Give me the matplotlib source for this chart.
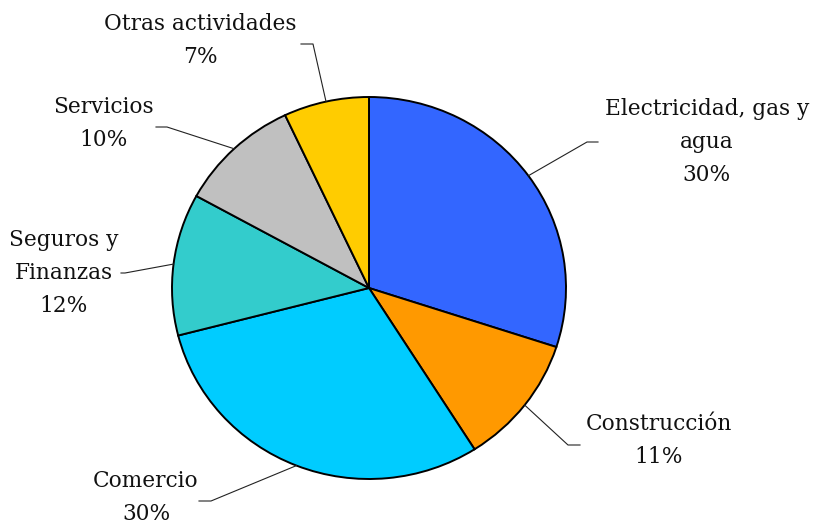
import numpy as np
import matplotlib

matplotlib.use("Agg")
import matplotlib.pyplot as plt

# slices, clockwise from 12 o'clock
labels = ["Electricidad, gas y\nagua", "Construcción", "Comercio",
          "Seguros y\nFinanzas", "Servicios", "Otras actividades"]
shares = [30, 11, 30, 12, 10, 7]
colors = ["#3366FF", "#FF9900", "#00CCFF", "#33CCCC", "#C0C0C0", "#FFCC00"]

# layout in pixels of the 814x522 picture
W, H = 814, 522
CX, CY, RX, RY = 369, 288, 197, 191
# (text centre x, text top-line y, elbow x, elbow y, end x)
label_pos = [
    (707, 109, 587, 142, 598),
    (659, 424, 568, 445, 580),
    (146, 481, 211, 501, 199),
    (64, 240, 125, 273, 121),
    (103, 107, 167, 127, 156),
    (200, 24, 313, 44, 301),
]


def to_data(px, py):
    return (px - CX) / RX, (CY - py) / RY


plt.rcParams["font.family"] = "DejaVu Serif"
fig = plt.figure(figsize=(W / 100, H / 100), dpi=100)
ax = fig.add_axes([0, 0, 1, 1])

wedges, _ = ax.pie(shares, colors=colors, startangle=90, counterclock=False,
                   wedgeprops=dict(edgecolor="black", linewidth=1.4))
ax.set_aspect("auto")
ax.set_xlim(-CX / RX, (W - CX) / RX)
ax.set_ylim((CY - H) / RY, CY / RY)
ax.axis("off")

for w, lab, share, (tx, ty, ex, ey, hx) in zip(wedges, labels, shares, label_pos):
    mid = np.deg2rad((w.theta1 + w.theta2) / 2)
    sx, sy = np.cos(mid), np.sin(mid)
    e = to_data(ex, ey)
    h = to_data(hx, ey)
    ax.plot([sx, e[0], h[0]], [sy, e[1], h[1]], color="#222222", linewidth=0.8)
    lines = lab.split("\n") + [f"{share}%"]
    for i, line in enumerate(lines):
        x, y = to_data(tx, ty + i * 33)
        ax.text(x, y, line, ha="center", va="center", fontsize=15.6,
                color="#111111")

fig.savefig("out.png", dpi=100)
